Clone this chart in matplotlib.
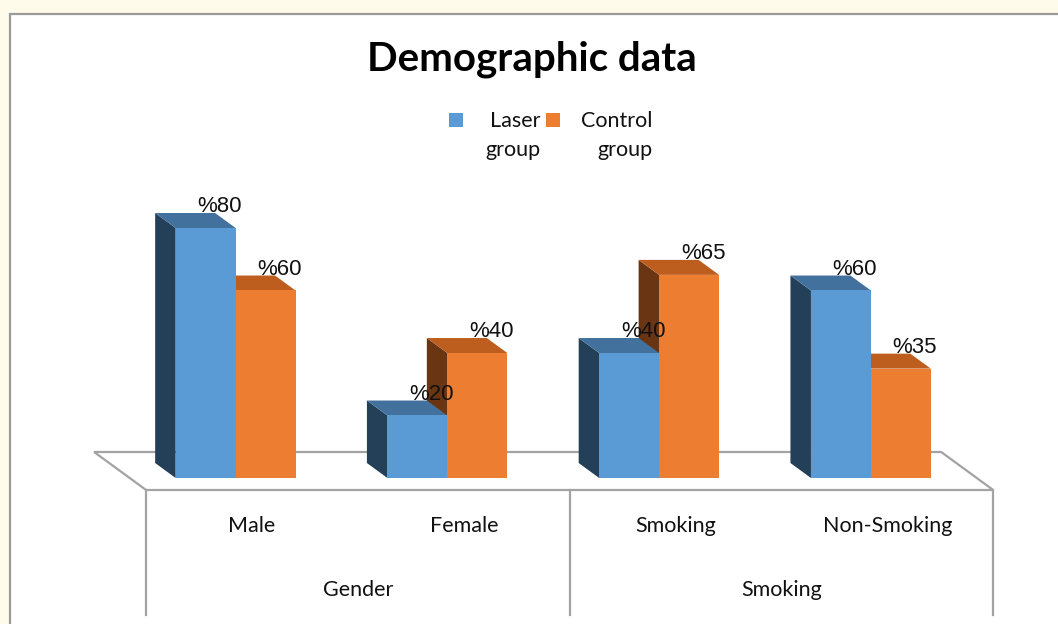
import numpy as np
import matplotlib
matplotlib.use('Agg')
import matplotlib.pyplot as plt
from matplotlib.patches import Polygon, Rectangle

# Данные
categories = ['Male', 'Female', 'Smoking', 'Non-Smoking']
groups = ['Gender', 'Smoking']
series_names = ['Laser\ngroup', 'Control\ngroup']
laser = [80, 20, 40, 60]
control = [60, 40, 65, 35]

# Цвета (лицевая, верхняя, боковая грань)
blue = ('#5B9BD5', '#41719C', '#243F58')
orange = ('#ED7D31', '#BE5E1E', '#6A3513')
line_gray = '#A3A3A3'

# Псевдо-3D проекция: глубина d в [0, 1]
DX = -0.2456   # сдвиг по x (в категориях) на единицу глубины
DY = 12.16     # сдвиг по y (в процентах) на единицу глубины
D1, D2 = 0.316, 0.71   # глубина столбцов
BW = 0.283     # ширина столбца


def proj(x, v, d):
    return (x + d * DX, v + d * DY)


def draw_bar(ax, x0, v, colors):
    front, top, side = colors
    x1 = x0 + BW
    side_pts = [proj(x0, 0, D1), proj(x0, v, D1), proj(x0, v, D2), proj(x0, 0, D2)]
    top_pts = [proj(x0, v, D1), proj(x1, v, D1), proj(x1, v, D2), proj(x0, v, D2)]
    front_pts = [proj(x0, 0, D1), proj(x1, 0, D1), proj(x1, v, D1), proj(x0, v, D1)]
    for pts, c in [(side_pts, side), (top_pts, top), (front_pts, front)]:
        ax.add_patch(Polygon(pts, closed=True, facecolor=c, edgecolor='none', zorder=3))


def value_label(ax, x0, v):
    cx, _ = proj(x0 + BW / 2, v, D1)
    _, ty = proj(x0, v, D2)
    ax.text(cx + 0.066, ty + 2.0, f'%{v}', ha='center', va='center',
            fontsize=16, family='Liberation Sans', color='#111111', zorder=5)


fig = plt.figure(figsize=(10.58, 6.24), dpi=100, facecolor='#FFFBEA')

# Белая область диаграммы с рамкой
fig.patches.append(Rectangle((10 / 1058, -0.01), 1.1, 1 - 14 / 624 + 0.01,
                             transform=fig.transFigure, facecolor='white',
                             edgecolor='#9A9A9A', linewidth=1.6, zorder=-1))

ax = fig.add_axes([0, 0, 1, 1])
ax.set_zorder(1)
ax.set_xlim(-0.690, 4.306)
ax.set_ylim(-42.88, 156.8)
ax.axis('off')

n = len(categories)

# Пол
floor = [proj(0, 0, 0), proj(n, 0, 0), proj(n, 0, 1), proj(0, 0, 1)]
ax.add_patch(Polygon(floor, closed=True, facecolor='white', edgecolor=line_gray,
                     linewidth=1.6, zorder=1))

# Таблица подписей
for xv in [0, 2, 4]:
    ax.plot([xv, xv], [0, -40], color=line_gray, linewidth=1.6, zorder=1)

for i, cat in enumerate(categories):
    ax.text(i + 0.5, -11.6, cat, ha='center', va='center', fontsize=15.5,
            family='Lato', color='#111111')
for j, g in enumerate(groups):
    ax.text(2 * j + 1, -32.0, g, ha='center', va='center', fontsize=15.5,
            family='Lato', color='#111111')

# Столбцы
for i in range(n):
    xl = i + 0.5 - BW
    xc = i + 0.5
    draw_bar(ax, xc, control[i], orange)
    draw_bar(ax, xl, laser[i], blue)
    value_label(ax, xl, laser[i])
    value_label(ax, xc, control[i])

# Заголовок
fig.text(532 / 1058, 1 - 70 / 624, 'Demographic data', ha='center', va='baseline',
         fontsize=29, fontweight='bold', family='Lato', color='black', zorder=2)

# Легенда
for (sq_x, txt_x), name, c in zip([(449, 540), (546, 652)], series_names, [blue[0], orange[0]]):
    fig.patches.append(Rectangle((sq_x / 1058, 1 - 127 / 624), 14 / 1058, 14 / 624,
                                 transform=fig.transFigure, facecolor=c,
                                 edgecolor='none', zorder=2))
    fig.text(txt_x / 1058, 1 - 111 / 624, name, ha='right', va='top',
             multialignment='right', fontsize=15.5, family='Lato',
             linespacing=1.55, color='#111111', zorder=2)

fig.savefig('out.png', dpi=100, facecolor=fig.get_facecolor())
